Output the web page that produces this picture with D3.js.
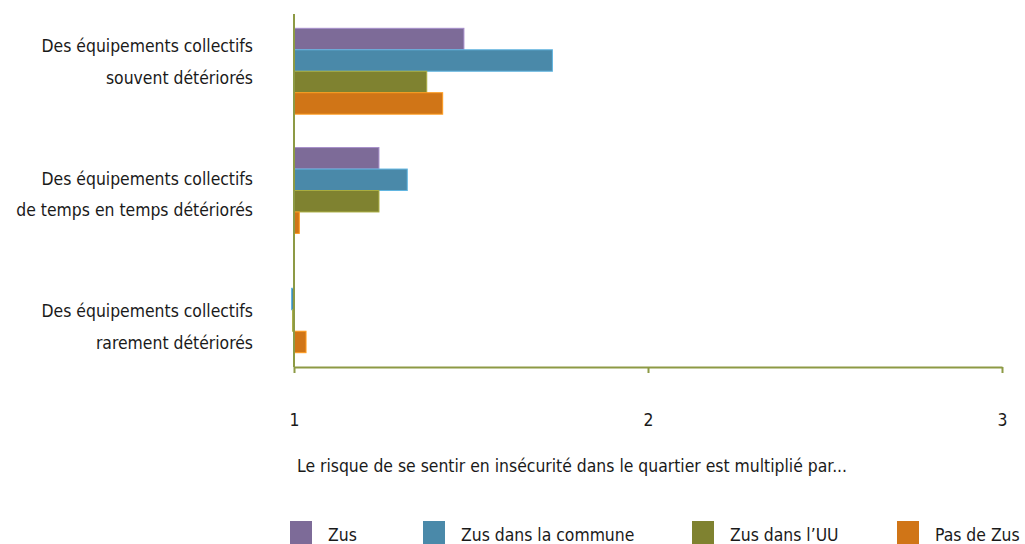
<!DOCTYPE html>
<html>
<head>
<meta charset="utf-8">
<script src="https://cdn.jsdelivr.net/npm/d3@7"></script>
<style>
  body { margin: 0; background: #fff; }
  svg text { font-family: "Liberation Sans Narrow", "DejaVu Sans Condensed", sans-serif; fill: #1a1a1a; }
</style>
</head>
<body>
<div id="chart"></div>
<script>
const width = 1025;
const height = 544;

const categories = [
  ["Des équipements collectifs", "souvent détériorés"],
  ["Des équipements collectifs", "de temps en temps détériorés"],
  ["Des équipements collectifs", "rarement détériorés"]
];
const seriesNames = ["Zus", "Zus dans la commune", "Zus dans l\u2019UU", "Pas de Zus"];
const seriesColors = ["#7d6b98", "#4a89a9", "#7f8230", "#d07517"];
const seriesValues = [
  [1.48, 1.24, 1.0],
  [1.73, 1.32, 0.993],
  [1.375, 1.24, 0.996],
  [1.42, 1.015, 1.034]
];
const tickValues = [1, 2, 3];
const axisTitle = "Le risque de se sentir en insécurité dans le quartier est multiplié par...";

const axisColor = "#8d9a45";
const fontSize = 17.4;

const svg = d3.select("#chart")
  .append("svg")
  .attr("width", width)
  .attr("height", height);

const x = d3.scaleLinear().domain([1, 3]).range([294, 1002]);

const catIdx = d3.range(categories.length);
const y = d3.scaleBand()
  .domain(catIdx)
  .range([14, 367])
  .paddingInner(0.28)
  .paddingOuter(0.12);

const ySub = d3.scaleBand()
  .domain(d3.range(seriesNames.length))
  .range([0, y.bandwidth()]);

const labelY = d3.scalePoint().domain(catIdx).range([61, 326]);

// bars
seriesNames.forEach((name, s) => {
  svg.append("g")
    .selectAll("rect")
    .data(seriesValues[s])
    .enter()
    .append("rect")
    .attr("x", d => Math.min(x(1), x(d)))
    .attr("y", (d, i) => y(i) + ySub(s))
    .attr("width", d => Math.abs(x(d) - x(1)))
    .attr("height", ySub.bandwidth())
    .attr("fill", seriesColors[s])
    .attr("stroke", d3.color(seriesColors[s]).brighter(0.8))
    .attr("stroke-width", 1);
});

// vertical axis line
svg.append("line")
  .attr("x1", x(1)).attr("x2", x(1))
  .attr("y1", 14).attr("y2", 367)
  .attr("stroke", axisColor)
  .attr("stroke-width", 2);

// x axis
const xAxis = svg.append("g")
  .attr("transform", "translate(0,367)")
  .call(d3.axisBottom(x).tickValues(tickValues).tickFormat(d3.format("d"))
    .tickSize(6).tickPadding(41).tickSizeOuter(0));
xAxis.select(".domain").attr("stroke", axisColor).attr("stroke-width", 2);
xAxis.selectAll(".tick line").attr("stroke", axisColor).attr("stroke-width", 2);
xAxis.selectAll(".tick text")
  .attr("font-family", "Liberation Sans Narrow, DejaVu Sans Condensed, sans-serif")
  .attr("font-size", fontSize)
  .attr("fill", "#1a1a1a");

// category labels
const lab = svg.append("g").selectAll("text")
  .data(categories)
  .enter()
  .append("text")
  .attr("text-anchor", "end")
  .attr("font-size", fontSize)
  .attr("x", 253)
  .attr("y", (d, i) => labelY(i));
lab.append("tspan").attr("x", 253).attr("dy", "-0.5em").text(d => d[0]);
lab.append("tspan").attr("x", 253).attr("dy", "1.8em").text(d => d[1]);

// axis title
svg.append("text")
  .attr("x", 297)
  .attr("y", 472)
  .attr("font-size", fontSize)
  .text(axisTitle);

// legend
const legendX = [290, 423, 692, 897];
const legend = svg.append("g").selectAll("g")
  .data(seriesNames)
  .enter()
  .append("g")
  .attr("transform", (d, i) => `translate(${legendX[i]},521)`);
legend.append("rect")
  .attr("width", 22)
  .attr("height", 24)
  .attr("fill", (d, i) => seriesColors[i]);
legend.append("text")
  .attr("x", 38)
  .attr("y", 20)
  .attr("font-size", fontSize)
  .text(d => d);
</script>
</body>
</html>
